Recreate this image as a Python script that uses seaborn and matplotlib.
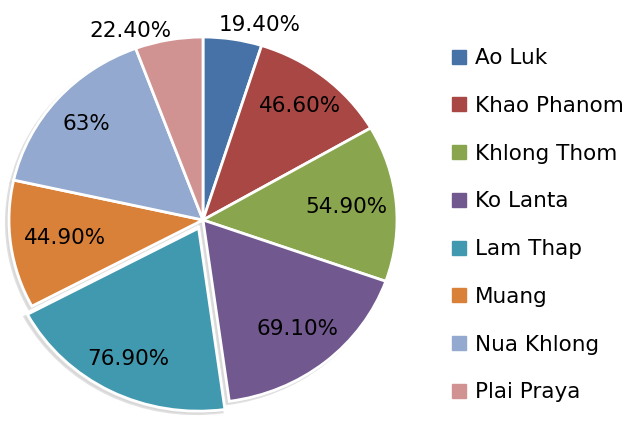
import numpy as np
import matplotlib
matplotlib.use("Agg")
import matplotlib.pyplot as plt
from matplotlib.lines import Line2D
import seaborn as sns

# district values (percent)
districts = ["Ao Luk", "Khao Phanom", "Khlong Thom", "Ko Lanta",
             "Lam Thap", "Muang", "Nua Khlong", "Plai Praya"]
values = [19.4, 46.6, 54.9, 69.1, 76.9, 44.9, 63.0, 22.4]
pct_labels = ["19.40%", "46.60%", "54.90%", "69.10%",
              "76.90%", "44.90%", "63%", "22.40%"]

colors = ["#4672A8", "#A84744", "#89A64E", "#71588F",
          "#4199AF", "#DA8139", "#93A9CF", "#D09392"]
explode = [0, 0, 0, 0, 0.05, 0, 0, 0]
# label placement (radius, horizontal nudge)
label_r = [1.08, 0.80, 0.74, 0.77, 0.80, 0.72, 0.80, 1.05]
label_dx = [0.125, 0, 0, 0, 0, 0, 0, -0.19]

sns.set_theme(style="white")
plt.rcParams["font.family"] = ["DejaVu Sans"]

fig = plt.figure(figsize=(6.29, 4.21), dpi=100)
W, H = 629, 421
cx, cy = 203, 421 - 220
rx, ry = 194, 183
lim = 1.1
ax = fig.add_axes([(cx - lim * rx) / W, (cy - lim * ry) / H,
                   2 * lim * rx / W, 2 * lim * ry / H])

wedges, _ = ax.pie(values, colors=colors, explode=explode, startangle=90,
                   counterclock=False,
                   wedgeprops=dict(edgecolor="white", linewidth=2),
                   shadow=dict(ox=-0.01, oy=-0.01, facecolor="#d4d4d4",
                               edgecolor="#d4d4d4", alpha=0.7))
ax.set_aspect("auto")
ax.set_xlim(-lim, lim)
ax.set_ylim(-lim, lim)
ax.axis("off")

for w, txt, r, dx, ex in zip(wedges, pct_labels, label_r, label_dx, explode):
    ang = np.deg2rad((w.theta1 + w.theta2) / 2)
    ax.text((r + ex) * np.cos(ang) + dx, (r + ex) * np.sin(ang), txt,
            ha="center", va="center", fontsize=15.5, color="black")

handles = [Line2D([0], [0], marker="s", linestyle="none", markersize=9.5,
                  markerfacecolor=c, markeredgecolor=c) for c in colors]
fig.legend(handles, districts, loc="center left",
           bbox_to_anchor=(453 / W, 0.465), frameon=False,
           fontsize=15.5, labelcolor="black", borderpad=0, borderaxespad=0,
           handlelength=0.6, handletextpad=0.42, labelspacing=1.29)

fig.savefig("out.png", dpi=100)
